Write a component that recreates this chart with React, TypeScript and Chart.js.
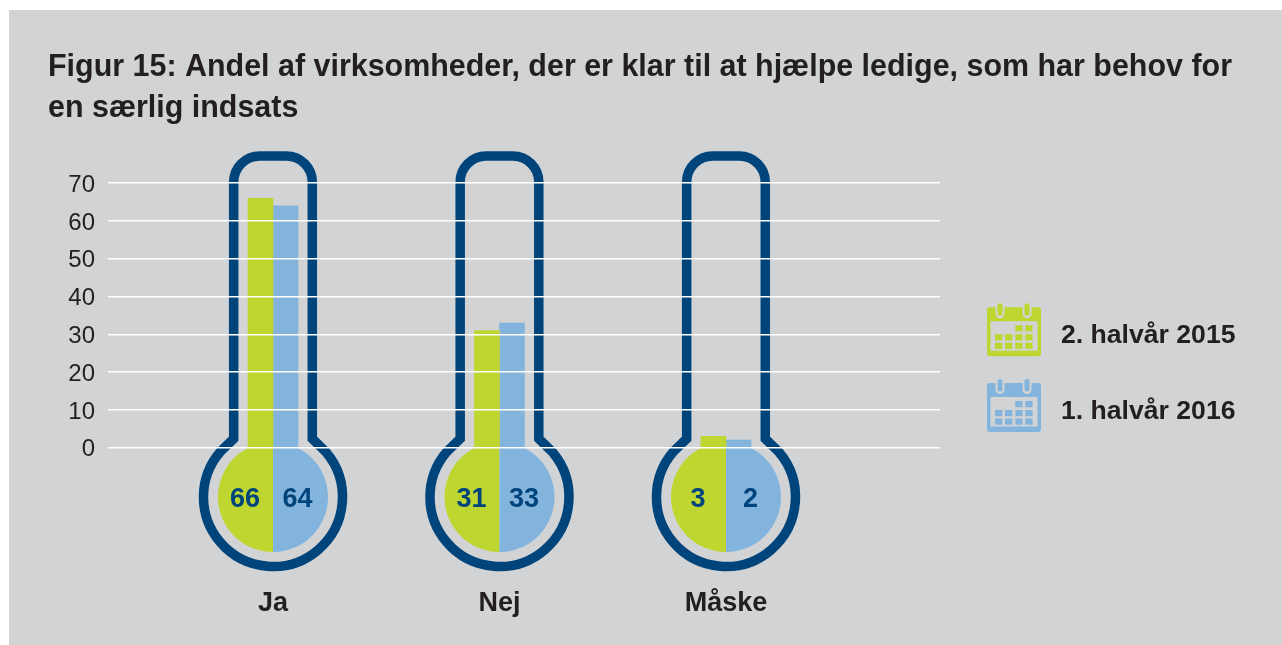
import React, { useEffect, useRef } from "react";
import { Chart, registerables } from "chart.js";

Chart.register(...registerables);

const categories = ["Ja", "Nej", "Måske"];
const seriesNames = ["2. halvår 2015", "1. halvår 2016"];
const values2015 = [66, 31, 3];
const values2016 = [64, 33, 2];
const yMax = 70;
const yStep = 10;
const titleLines = [
  "Figur 15: Andel af virksomheder, der er klar til at hjælpe ledige, som har behov for",
  "en særlig indsats",
];

const GRAY = "#D1D3D5";
const GREEN = "#BFD630";
const BLUE = "#83B4DD";
const NAVY = "#00447C";
const INK = "#231F20";
const FONT = '"Liberation Sans", Arial, sans-serif';

function calendarFull(ctx: CanvasRenderingContext2D, x: number, y: number, color: string) {
  ctx.save();
  ctx.fillStyle = color;
  ctx.beginPath();
  ctx.roundRect(x, y, 54, 49, 3);
  ctx.fill();
  ctx.fillStyle = GRAY;
  ctx.fillRect(x + 3.5, y + 14, 47, 29.5);
  [13, 40].forEach((rx) => {
    ctx.fillStyle = GRAY;
    ctx.beginPath();
    ctx.roundRect(x + rx - 4.5, y - 5, 9, 16, 4.5);
    ctx.fill();
    ctx.fillStyle = color;
    ctx.beginPath();
    ctx.roundRect(x + rx - 2.5, y - 4, 5, 12.5, 2.5);
    ctx.fill();
  });
  ctx.fillStyle = color;
  const cols = [8, 18, 28.3, 38.3];
  const rows = [18, 27, 35.5];
  rows.forEach((ry, r) =>
    cols.forEach((cx, c) => {
      if (r === 0 && c < 2) return;
      ctx.fillRect(x + cx, y + ry, 7.3, 6.2);
    })
  );
  ctx.restore();
}

const thermometerPlugin = {
  id: "thermometer",
  beforeDraw(chart: any) {
    const { ctx, width, height } = chart;
    ctx.save();
    ctx.fillStyle = "#FFFFFF";
    ctx.fillRect(0, 0, width, height);
    ctx.fillStyle = GRAY;
    ctx.fillRect(9, 10, width - 9, height - 10);
    ctx.fillStyle = INK;
    ctx.font = `bold 30.45px ${FONT}`;
    ctx.textAlign = "left";
    ctx.textBaseline = "alphabetic";
    titleLines.forEach((t, i) => ctx.fillText(t, 48, 76 + i * 40.5));
    ctx.restore();
  },
  beforeDatasetsDraw(chart: any) {
    const { ctx, scales } = chart;
    const base = scales.y.getPixelForValue(0);
    const top = base - 291.7;
    const hw = 39.3;
    const R = 69.5;
    categories.forEach((_, i) => {
      const cx = scales.x.getPixelForValue(i);
      const cy = base + 49.3;
      const a1 = Math.atan2(-44.5, -52.5);
      const a2 = Math.atan2(-44.5, 52.5);
      ctx.save();
      ctx.strokeStyle = NAVY;
      ctx.lineWidth = 9.5;
      ctx.lineJoin = "miter";
      ctx.beginPath();
      ctx.moveTo(cx - hw, base - 9);
      ctx.arcTo(cx - hw, top, cx, top, 26);
      ctx.arcTo(cx + hw, top, cx + hw, base - 9, 26);
      ctx.lineTo(cx + hw, base - 9);
      ctx.lineTo(cx + R * Math.cos(a2), cy + R * Math.sin(a2));
      ctx.arc(cx, cy, R, a2, a1, false);
      ctx.closePath();
      ctx.stroke();
      ctx.restore();
    });
  },
  afterDatasetsDraw(chart: any) {
    const { ctx, scales } = chart;
    const base = scales.y.getPixelForValue(0);
    const r = 55;
    categories.forEach((_, i) => {
      const cx = scales.x.getPixelForValue(i);
      const cy = base + 49.3;
      ctx.save();
      ctx.beginPath();
      ctx.rect(cx - r - 2, base, 2 * r + 4, 2 * r);
      ctx.clip();
      ctx.fillStyle = GREEN;
      ctx.beginPath();
      ctx.arc(cx, cy, r, Math.PI / 2, (3 * Math.PI) / 2);
      ctx.closePath();
      ctx.fill();
      ctx.fillStyle = BLUE;
      ctx.beginPath();
      ctx.arc(cx, cy, r, -Math.PI / 2, Math.PI / 2);
      ctx.closePath();
      ctx.fill();
      ctx.restore();
      ctx.save();
      ctx.fillStyle = NAVY;
      ctx.font = `bold 27px ${FONT}`;
      ctx.textAlign = "center";
      ctx.textBaseline = "middle";
      ctx.fillText(String(values2015[i]), cx - 28, cy + 3);
      ctx.fillText(String(values2016[i]), cx + 24.5, cy + 3);
      ctx.restore();
    });
  },
  afterDraw(chart: any) {
    const { ctx } = chart;
    const left = chart.chartArea.right + 47;
    const y0 = chart.scales.y.getPixelForValue(0);
    [GREEN, BLUE].forEach((c, i) => {
      const top = y0 - 140.5 + i * 75.8;
      calendarFull(ctx, left, top, c);
      ctx.save();
      ctx.fillStyle = INK;
      ctx.font = `bold 26.6px ${FONT}`;
      ctx.textAlign = "left";
      ctx.textBaseline = "middle";
      ctx.fillText(seriesNames[i], left + 74, top + 28.5);
      ctx.restore();
    });
  },
};

export default function App() {
  const ref = useRef<HTMLCanvasElement | null>(null);
  useEffect(() => {
    document.body.style.margin = "0";
    const chart = new Chart(ref.current as HTMLCanvasElement, {
      type: "bar",
      data: {
        datasets: [
          {
            label: seriesNames[0],
            data: categories.map((_, i) => ({ x: i, y: values2015[i] })),
            backgroundColor: GREEN,
            barThickness: 25,
          },
          {
            label: seriesNames[1],
            data: categories.map((_, i) => ({ x: i, y: values2016[i] })),
            backgroundColor: BLUE,
            barThickness: 25,
          },
        ] as any,
      },
      options: {
        responsive: false,
        animation: false,
        layout: { padding: { left: 48, right: 342, top: 183.2, bottom: 0 } },
        plugins: {
          legend: { display: false },
          tooltip: { enabled: false },
        },
        scales: {
          x: {
            type: "linear",
            offset: false,
            min: -0.7285,
            max: 2.945,
            afterBuildTicks(scale: any) {
              scale.ticks = categories.map((_, i) => ({ value: i }));
            },
            afterFit(scale: any) {
              scale.height = 197.3;
            },
            grid: { display: false, drawTicks: false, offset: false },
            border: { display: false },
            ticks: {
              autoSkip: false,
              maxRotation: 0,
              padding: 140,
              color: INK,
              font: { family: FONT, size: 27, weight: "bold" },
              callback: (v: any) => categories[v as number] ?? "",
            },
          },
          y: {
            type: "linear",
            min: 0,
            max: yMax,
            afterFit(scale: any) {
              scale.width = 60;
            },
            grid: { color: "#FFFFFF", lineWidth: 1.5, z: 1, drawTicks: false },
            border: { display: false },
            ticks: {
              stepSize: yStep,
              padding: 13,
              labelOffset: 2,
              color: INK,
              font: { family: FONT, size: 24 },
            },
          },
        },
      } as any,
      plugins: [thermometerPlugin] as any,
    });
    return () => chart.destroy();
  }, []);
  return <canvas ref={ref} width={1282} height={645} style={{ display: "block" }} />;
}
